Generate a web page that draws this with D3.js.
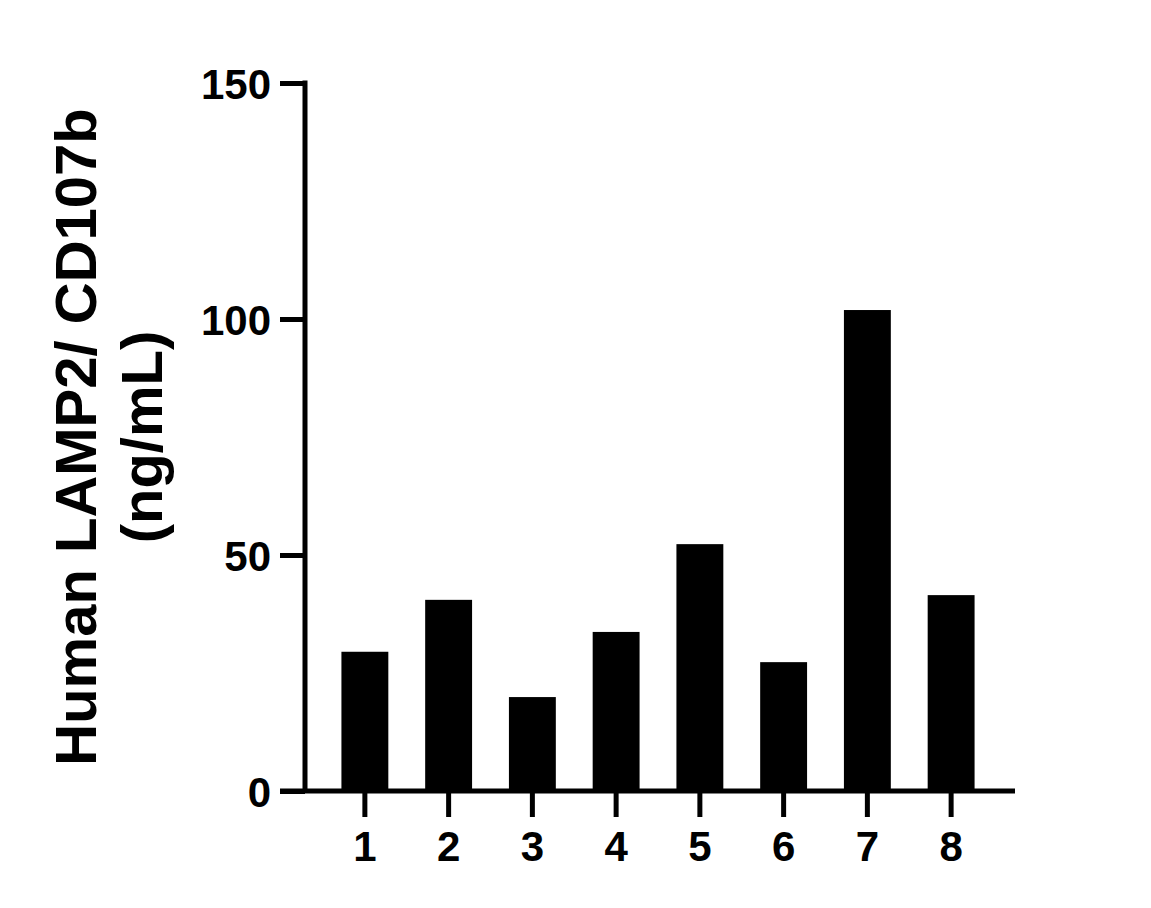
<!DOCTYPE html>
<html>
<head>
<meta charset="utf-8">
<script src="https://cdn.jsdelivr.net/npm/d3@7"></script>
<style>
  body { margin: 0; background: #fff; }
  svg text { font-family: "Liberation Sans", Arial, sans-serif; font-weight: bold; }
</style>
</head>
<body>
<div id="chart"></div>
<script>
// sample numbers on the x axis
var categories = ["1", "2", "3", "4", "5", "6", "7", "8"];
// LAMP2 / CD107b concentration (ng/mL)
var values = [29.5, 40.5, 19.9, 33.7, 52.3, 27.3, 101.9, 41.5];
var yTicks = [0, 50, 100, 150];
var yTitle = ["Human LAMP2/ CD107b", "(ng/mL)"];

var W = 1151, H = 908;
var margin = { left: 305, top: 83, right: 136, bottom: 117 };
var w = W - margin.left - margin.right;
var h = H - margin.top - margin.bottom;

var svg = d3.select("#chart").append("svg")
    .attr("width", W)
    .attr("height", H);

var g = svg.append("g")
    .attr("transform", `translate(${margin.left},${margin.top})`);

var scaleX = d3.scaleBand().domain(categories).range([18, w - 22]).paddingInner(0.44).paddingOuter(0.22);
var scaleY = d3.scaleLinear().domain([0, 150]).range([h, 0]);

// bars
g.selectAll("rect.bar")
    .data(values)
    .enter()
    .append("rect")
    .attr("class", "bar")
    .attr("x", (d, i) => scaleX(categories[i]))
    .attr("y", d => scaleY(d))
    .attr("width", scaleX.bandwidth())
    .attr("height", d => h - scaleY(d))
    .attr("fill", "#000");

// y axis
var yAxis = d3.axisLeft(scaleY).tickValues(yTicks).tickSize(25).tickSizeOuter(0).tickPadding(9);
var yAxisGroup = g.append("g").attr("class", "_y").call(yAxis);
yAxisGroup.select(".domain").remove();
yAxisGroup.selectAll(".tick line").attr("stroke", "#000").attr("stroke-width", 5);
yAxisGroup.selectAll(".tick text")
    .attr("font-size", 42)
    .attr("fill", "#000")
    .attr("dy", "0.36em");

// x axis
var xAxis = d3.axisBottom(scaleX).tickSize(26).tickSizeOuter(0).tickPadding(14);
var xAxisGroup = g.append("g").attr("class", "_x")
    .attr("transform", `translate(0,${h})`)
    .call(xAxis);
xAxisGroup.select(".domain").remove();
xAxisGroup.selectAll(".tick line").attr("stroke", "#000").attr("stroke-width", 5);
xAxisGroup.selectAll(".tick text")
    .attr("font-size", 42)
    .attr("fill", "#000");

// axis lines
g.append("line")
    .attr("x1", 0).attr("x2", 0)
    .attr("y1", scaleY(150) - 2.5).attr("y2", h)
    .attr("stroke", "#000").attr("stroke-width", 5);
g.append("line")
    .attr("x1", -25).attr("x2", w)
    .attr("y1", h).attr("y2", h)
    .attr("stroke", "#000").attr("stroke-width", 5);

// y title
var title = svg.append("text")
    .attr("transform", `translate(96,${margin.top + h / 2}) rotate(-90)`)
    .attr("text-anchor", "middle")
    .attr("font-size", 58)
    .attr("fill", "#000");
title.selectAll("tspan")
    .data(yTitle)
    .enter()
    .append("tspan")
    .attr("x", 0)
    .attr("dy", (d, i) => i === 0 ? 0 : 66)
    .text(d => d);
</script>
</body>
</html>
